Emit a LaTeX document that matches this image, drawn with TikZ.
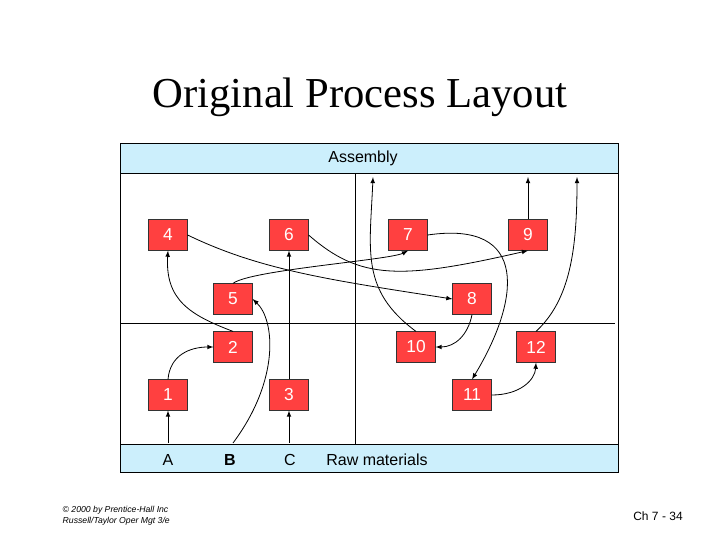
\documentclass[tikz,border=0pt]{standalone}
\usepackage{fontspec}
\setmainfont{Liberation Serif}
\newfontfamily\arial{Liberation Sans}
\begin{document}
\begin{tikzpicture}[x=0.75pt,y=-0.75pt,
 box/.style={draw=black!80,fill=red!75!white,text=white,minimum width=29pt,minimum height=23pt,inner sep=0pt,font=\arial\fontsize{13}{15}\selectfont},
 arr/.style={-latex,semithick},
 band/.style={draw=black,fill=cyan!20!white}]
\useasboundingbox (0,0) rectangle (720,540);
\draw[band] (120,143) rectangle (618,173);
\draw[band] (120,444) rectangle (618,472);
\draw (120,173) -- (120,444) (618,173) -- (618,444);
\draw (355,173) -- (355,444);
\draw (120,323) -- (615,323);
\node[font=\fontsize{32}{36}\selectfont] (title) at (360,97) {Original Process Layout};
\node[font=\arial\fontsize{12}{14}\selectfont] (asm) at (363,158) {Assembly};
\node[font=\arial\fontsize{12}{14}\selectfont] (A) at (168,460) {A};
\node[font=\arial\bfseries\fontsize{12}{14}\selectfont] (B) at (230,460) {B};
\node[font=\arial\fontsize{12}{14}\selectfont] (C) at (290,460) {C};
\node[font=\arial\fontsize{12}{14}\selectfont] (raw) at (377,460) {Raw materials};
\node[font=\arial\itshape\fontsize{6.5}{8}\selectfont,align=left,anchor=west] (cr) at (58,516) {\copyright{} 2000 by Prentice-Hall Inc\\Russell/Taylor Oper Mgt 3/e};
\node[font=\arial\fontsize{9}{11}\selectfont] (ch) at (658,516) {Ch 7 - 34};
\node[box] (n4) at (168,235) {4};
\node[box] (n6) at (289,235) {6};
\node[box] (n7) at (408,235) {7};
\node[box] (n9) at (528,235) {9};
\node[box] (n5) at (233,299) {5};
\node[box] (n8) at (472,299) {8};
\node[box] (n2) at (233,347) {2};
\node[box] (n10) at (416,347) {10};
\node[box] (n12) at (536,347) {12};
\node[box] (n1) at (168,395) {1};
\node[box] (n3) at (289,395) {3};
\node[box] (n11) at (472,395) {11};
\coordinate (a0) at (168,443);
\coordinate (b0) at (233,443);
\coordinate (c0) at (289,443);
\coordinate (t10) at (373,177);
\coordinate (t9) at (528,177);
\coordinate (t12) at (577,177);
\draw[arr] (a0) -- (n1);
\draw[arr] (c0) -- (n3);
\draw[arr] (n3) -- (n6);
\draw[arr] (b0) .. controls (280,380) and (275,320) .. (n5.east);
\draw[arr] (n1.north) .. controls (170,355) and (190,347) .. (n2.west);
\draw[arr] (n2.north) .. controls (190,315) and (165,300) .. (n4.south);
\draw[arr] (n4.east) .. controls (260,270) and (330,280) .. (n8.west);
\draw[arr] (n6.east) .. controls (360,280) and (400,280) .. (n9.south);
\draw[arr] (n5.north) .. controls (250,270) and (390,260) .. (n7.south);
\draw[arr] (n7.east) .. controls (530,220) and (520,300) .. (n11.north);
\draw[arr] (n8.south) .. controls (468,335) and (455,347) .. (n10.east);
\draw[arr] (n10.north) .. controls (360,290) and (370,250) .. (t10);
\draw[arr] (n9) -- (t9);
\draw[arr] (n12.north) .. controls (570,300) and (577,250) .. (t12);
\draw[arr] (n11.east) .. controls (520,395) and (535,380) .. (n12.south);
\end{tikzpicture}
\end{document}
